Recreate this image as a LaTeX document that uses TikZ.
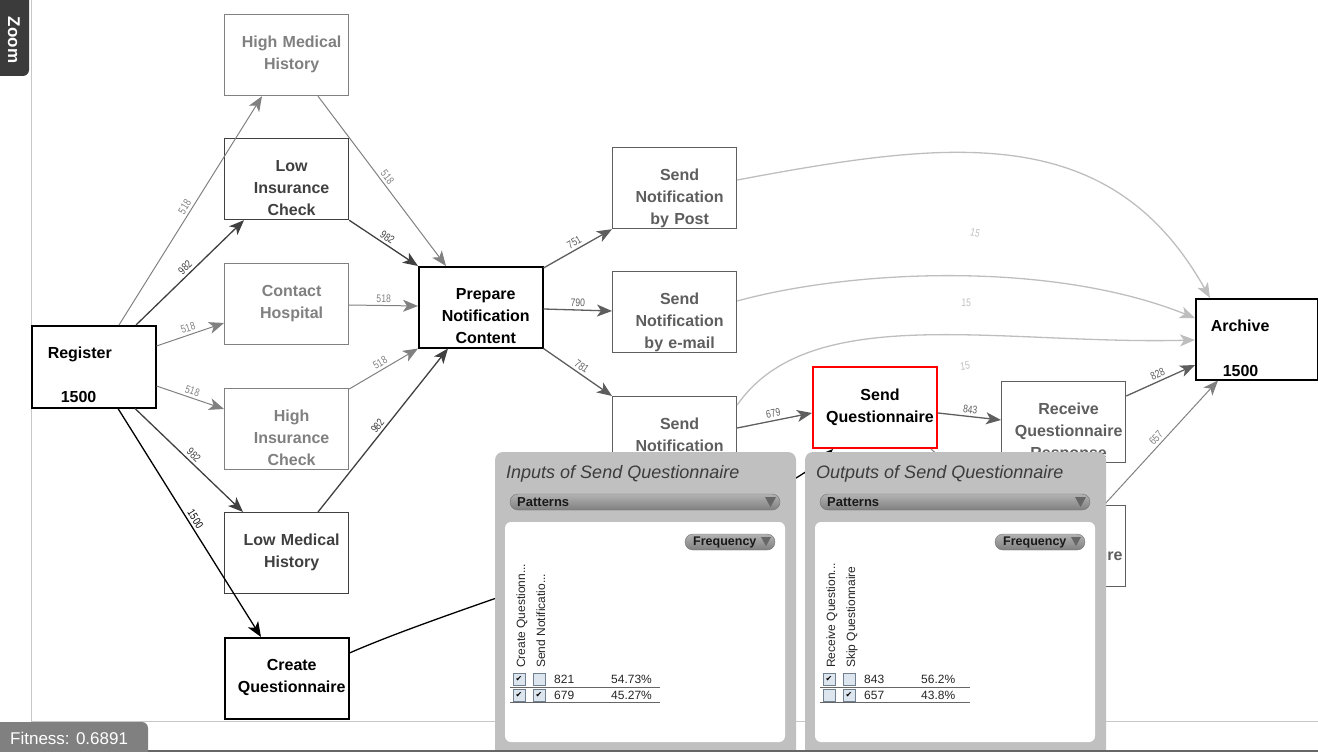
\documentclass[tikz,border=0pt]{standalone}
\usepackage{fontspec}
\setmainfont{Liberation Sans}
\newfontfamily\symfont{DejaVu Sans}
\newfontfamily\narrowfont[FakeStretch=0.78]{Liberation Sans}
\usetikzlibrary{arrows.meta}

\definecolor{edgegray}{HTML}{808080}
\definecolor{edgedark}{HTML}{404040}
\definecolor{edgemid}{HTML}{5E5E5E}
\definecolor{edgepale}{HTML}{BEBEBE}
\definecolor{panelgray}{HTML}{C0C0C0}
\definecolor{cbfill}{HTML}{DDE5EE}
\definecolor{cbline}{HTML}{708090}
\definecolor{titlegray}{HTML}{3C3C3C}

\tikzset{
  act/.style={draw, line width=1.2pt, fill=white, anchor=north west,
    minimum width=124pt, minimum height=81pt, inner sep=0pt,
    text width=124pt, align=center, text height=33pt, text depth=48pt,
    font=\bfseries\fontsize{16}{22}\selectfont},
  nudge/.style={execute at begin node={\leftskip=10pt plus 1fil\rightskip=0pt plus 1fil\parfillskip=0pt\relax}},
  boxfaint/.style={act, nudge, draw=edgegray, text=edgegray},
  boxdark/.style={act, nudge, draw=edgedark, text=edgedark},
  boxmid/.style={act, nudge, draw=edgemid, text=edgemid},
  boxbold/.style={act, nudge, draw=black, line width=1.5pt, text=black},
  boxplain/.style={act, draw=black, line width=1.5pt, text=black, align=left},
  boxhot/.style={act, nudge, draw=red, line width=2pt, text=black},
  flowtip/.style={-{Stealth[length=15pt,width=12pt,inset=4pt]}},
  flowgray/.style={flowtip, draw=edgegray, line width=1pt},
  flowdark/.style={flowtip, draw=edgedark, line width=1.3pt},
  flowblack/.style={flowtip, draw=black, line width=1.3pt},
  flowmid/.style={flowtip, draw=edgemid, line width=1.3pt},
  flowpale/.style={flowtip, draw=edgepale, line width=1.3pt},
  cnt/.style={sloped, above, inner sep=2.5pt, font=\narrowfont\fontsize{11}{12}\selectfont},
  paneltitle/.style={anchor=base west, inner sep=0pt, text=titlegray,
    font=\itshape\fontsize{18}{20}\selectfont},
  pill/.style={draw=black!55, top color=black!30, bottom color=black!50,
    rounded corners=8pt},
  pilltext/.style={anchor=west, inner sep=0pt, text=black!90,
    font=\bfseries\fontsize{13}{14}\selectfont},
  colhead/.style={rotate=90, anchor=base west, inner sep=0pt, text=black!85,
    font=\fontsize{12}{13}\selectfont},
  cbox/.style={draw=cbline, fill=cbfill, minimum size=12pt, inner sep=0pt,
    font=\symfont\fontsize{8}{8}\selectfont},
  cell/.style={anchor=base west, inner sep=0pt, text=black!85,
    font=\fontsize{12}{13}\selectfont},
  rowline/.style={draw=black!60, line width=0.8pt},
}

\begin{document}
\begin{tikzpicture}[x=1pt,y=-1pt]
\useasboundingbox (0,0) rectangle (1318,752);
% canvas frame
\draw[black!22, line width=1pt] (31,0) -- (31,721) -- (1318,721);

% activities
\node[boxplain, minimum height=82pt, text depth=49pt] (reg) at (31,325)
  {\hspace*{16pt}Register\\[22pt]\hspace*{29pt}1500};
\node[boxfaint] (hmh) at (224,14) {High Medical\\History};
\node[boxdark] (lic) at (224,138) {Low\\Insurance\\Check};
\node[boxfaint] (chp) at (224,263) {Contact\\Hospital};
\node[boxfaint] (hic) at (224,388) {High\\Insurance\\Check};
\node[boxdark] (lmh) at (224,512) {Low Medical\\History};
\node[boxbold] (crq) at (224,637) {Create\\Questionnaire};
\node[boxbold] (pnc) at (418,266) {Prepare\\Notification\\Content};
\node[boxmid] (snp) at (612,147) {Send\\Notification\\by Post};
\node[boxmid] (sne) at (612,271) {Send\\Notification\\by e-mail};
\node[boxmid] (sno) at (612,396) {Send\\Notification};
\node[boxhot] (sdq) at (812,366) {Send\\Questionnaire};
\node[boxmid] (rqr) at (1001,381) {Receive\\Questionnaire\\Response};
\node[boxmid] (skq) at (1001,505) {Skip\\Questionnaire};
\node[boxplain, minimum width=122pt, text width=122pt] (arc) at (1195,298)
  {\hspace*{15pt}Archive\\[23pt]\hspace*{27pt}1500};

% flows out of Register
\draw[flowgray] ([xshift=88]reg.north west) -- node[cnt, text=edgegray] {518} ([xshift=38]hmh.south west);
\draw[flowdark] ([xshift=105]reg.north west) -- node[cnt, text=edgedark] {982} ([xshift=20]lic.south west);
\draw[flowgray] ([yshift=-21]reg.north east) -- node[cnt, text=edgegray] {518} ([yshift=-60]chp.north west);
\draw[flowgray] ([yshift=-61]reg.north east) -- node[cnt, text=edgegray] {518} ([yshift=-21]hic.north west);
\draw[flowdark] ([xshift=104]reg.south west) -- node[cnt, text=edgedark] {982} ([xshift=19]lmh.north west);
\draw[flowblack] ([xshift=87]reg.south west) -- node[cnt, text=black] {1500} ([xshift=37]crq.north west);

% into Prepare Notification Content
\draw[flowgray] ([xshift=94]hmh.south west) -- node[cnt, text=edgegray] {518} ([xshift=28]pnc.north west);
\draw[flowdark] (lic.south east) -- node[cnt, text=edgedark] {982} (pnc.north west);
\draw[flowgray] ([yshift=-42]chp.north east) -- node[cnt, text=edgegray] {518} ([yshift=-40]pnc.north west);
\draw[flowgray] ([yshift=-1]hic.north east) -- node[cnt, text=edgegray] {518} (pnc.south west);
\draw[flowdark] ([xshift=94]lmh.north west) -- node[cnt, text=edgedark] {982} ([xshift=30]pnc.south west);

% notifications
\draw[flowmid] ([yshift=-2]pnc.north east) -- node[cnt, text=edgemid] {751} (snp.south west);
\draw[flowmid] ([yshift=-43]pnc.north east) -- node[cnt, text=edgemid] {790} ([yshift=-40]sne.north west);
\draw[flowmid] (pnc.south east) -- node[cnt, text=edgemid] {781} (sno.north west);

% rare flows to Archive
\draw[flowpale] ([yshift=-33]snp.north east) .. controls (950,140) and (1110,120) .. ([xshift=15]arc.north west);
\path ([yshift=-33]snp.north east) -- node[cnt, text=edgepale] {15} ([xshift=15]arc.north west);
\draw[flowpale] ([yshift=-30]sne.north east) .. controls (850,270) and (1050,260) .. ([yshift=-20]arc.north west);
\path ([yshift=-30]sne.north east) -- node[cnt, text=edgepale] {15} ([yshift=-20]arc.north west);
\draw[flowpale] ([yshift=-9]sno.north east) .. controls (810,300) and (1000,345) .. ([yshift=-42]arc.north west);
\path ([yshift=-9]sno.north east) -- node[cnt, text=edgepale] {15} ([yshift=-42]arc.north west);

% questionnaire part
\draw[flowmid] ([yshift=-32]sno.north east) -- node[cnt, text=edgemid] {679} ([yshift=-47]sdq.north west);
\draw[flowblack] ([yshift=-16]crq.north east) .. controls (470,600) and (760,520) .. ([xshift=21]sdq.south west);
\draw[flowmid] ([yshift=-47]sdq.north east) -- node[cnt, text=edgemid] {843} ([yshift=-39]rqr.north west);
\draw[flowgray] ([xshift=-7]sdq.south east) -- ([yshift=-5]skq.north west);
\draw[flowmid] ([yshift=-15]rqr.north east) -- node[cnt, text=edgemid] {828} ([yshift=-67]arc.north west);
\draw[flowgray] ([xshift=103]skq.north west) -- node[cnt, text=edgegray] {657} ([xshift=23]arc.south west);

% inputs panel
\fill[panelgray, rounded corners=8pt] (495,452) rectangle (796,780);
\node[paneltitle] (intitle) at (506,478) {Inputs of Send Questionnaire};
\shade[pill] (510,494) rectangle (780,510);
\node[pilltext] (inpat) at (517,502) {Patterns};
\fill[black!60] (765,497) -- (776,497) -- (770.5,507) -- cycle;
\fill[white, rounded corners=6pt] (505,522) rectangle (785,742);
\shade[pill] (685,534) rectangle (775,550);
\node[pilltext, font=\bfseries\fontsize{12.5}{14}\selectfont] (infreq) at (693,542) {Frequency};
\fill[black!60] (761,537) -- (771,537) -- (766,546) -- cycle;
\node[colhead] (inhead1) at (525,668) {Create Questionn...};
\node[colhead] (inhead2) at (545,668) {Send Notificatio...};
\node[cbox] (in11) at (519,679) {✔};
\node[cbox] (in12) at (539,679) {};
\node[cell] (in13) at (554,683) {821};
\node[cell] (in14) at (611,683) {54.73\%};
\draw[rowline] (510,687) -- (660,687);
\node[cbox] (in21) at (519,695) {✔};
\node[cbox] (in22) at (539,695) {✔};
\node[cell] (in23) at (554,699) {679};
\node[cell] (in24) at (611,699) {45.27\%};
\draw[rowline] (510,702) -- (660,702);

% outputs panel
\fill[panelgray, rounded corners=8pt] (805,452) rectangle (1106,780);
\node[paneltitle] (outtitle) at (816,478) {Outputs of Send Questionnaire};
\shade[pill] (820,494) rectangle (1090,510);
\node[pilltext] (outpat) at (827,502) {Patterns};
\fill[black!60] (1075,497) -- (1086,497) -- (1080.5,507) -- cycle;
\fill[white, rounded corners=6pt] (815,522) rectangle (1095,742);
\shade[pill] (995,534) rectangle (1085,550);
\node[pilltext, font=\bfseries\fontsize{12.5}{14}\selectfont] (outfreq) at (1003,542) {Frequency};
\fill[black!60] (1071,537) -- (1081,537) -- (1076,546) -- cycle;
\node[colhead] (outhead1) at (835,668) {Receive Question...};
\node[colhead] (outhead2) at (855,668) {Skip Questionnaire};
\node[cbox] (out11) at (829,679) {✔};
\node[cbox] (out12) at (849,679) {};
\node[cell] (out13) at (864,683) {843};
\node[cell] (out14) at (921,683) {56.2\%};
\draw[rowline] (820,687) -- (970,687);
\node[cbox] (out21) at (829,695) {};
\node[cbox] (out22) at (849,695) {✔};
\node[cell] (out23) at (864,699) {657};
\node[cell] (out24) at (921,699) {43.8\%};
\draw[rowline] (820,702) -- (970,702);

% tabs
\fill[black!77, rounded corners=6pt] (-10,-10) rectangle (29,76);
\node[rotate=-90, text=white, font=\bfseries\fontsize{17}{17}\selectfont] (zoomtab) at (14,40) {Zoom};
\draw[black!60, line width=2pt] (0,751) -- (1318,751);
\fill[black!50, rounded corners=6pt] (-10,722) rectangle (148,770);
\node[anchor=base west, inner sep=0pt, text=white, font=\fontsize{17}{17}\selectfont] (fit) at (10,744) {Fitness: 0.6891};
\end{tikzpicture}
\end{document}
